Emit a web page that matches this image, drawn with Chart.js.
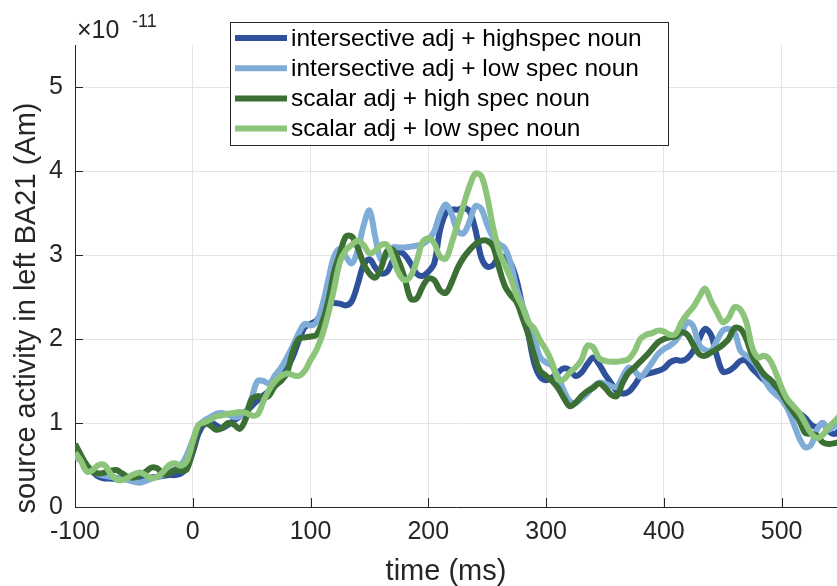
<!DOCTYPE html>
<html lang="en">
  <head>
    <meta charset="UTF-8" />
    <title>Source activity in left BA21</title>
    <script src="https://cdn.jsdelivr.net/npm/chart.js"></script>
    <style>
      body { margin: 0; background: #fff; }
      #wrap { width: 837px; height: 586px; }
    </style>
  </head>
  <body>
    <div id="wrap"><canvas id="chart" width="837" height="586"></canvas></div>

    <script>
      // time axis in ms, one sample every 5 ms
      const times = [];
      for (let t = -100; t <= 550; t += 5) times.push(t);

      const xTicks = [-100, 0, 100, 200, 300, 400, 500];
      const yTicks = [0, 1, 2, 3, 4, 5];

      // values in units of 1e-11 Am
      const intersectiveHigh = [
        0.62, 0.56, 0.48, 0.42, 0.36, 0.34, 0.34, 0.33, 0.33, 0.34, 0.35, 0.35, 0.35, 0.35, 0.36, 0.37, 0.38, 0.38, 0.40, 0.47,
        0.65, 0.88, 0.99, 1.01, 0.97, 0.94, 0.98, 1.03, 1.08, 1.14, 1.20, 1.27, 1.33, 1.38, 1.44, 1.53, 1.65, 1.79, 1.98, 2.14,
        2.18, 2.22, 2.32, 2.42, 2.43, 2.42, 2.40, 2.45, 2.65, 2.88, 2.95, 2.85, 2.78, 2.80, 2.94, 3.04, 3.00, 2.90, 2.78, 2.75,
        2.80, 2.90, 3.30, 3.50, 3.54, 3.54, 3.56, 3.52, 3.30, 2.97, 2.86, 2.88, 2.98, 2.97, 2.90, 2.70, 2.38, 2.05, 1.71, 1.55,
        1.51, 1.54, 1.60, 1.65, 1.63, 1.56, 1.60, 1.70, 1.78, 1.70, 1.58, 1.48, 1.38, 1.35, 1.37, 1.45, 1.55, 1.58, 1.60, 1.62,
        1.65, 1.72, 1.75, 1.74, 1.77, 1.86, 2.00, 2.12, 2.05, 1.80, 1.61, 1.62, 1.67, 1.74, 1.74, 1.65, 1.58, 1.51, 1.45, 1.40,
        1.34, 1.27, 1.19, 1.12, 1.06, 0.98, 0.95, 1.00, 0.90, 0.87, 0.93
      ];
      const intersectiveLow = [
        0.60, 0.55, 0.48, 0.43, 0.39, 0.37, 0.36, 0.35, 0.34, 0.32, 0.30, 0.29, 0.31, 0.34, 0.36, 0.38, 0.42, 0.45, 0.50, 0.62,
        0.80, 0.97, 1.03, 1.07, 1.11, 1.12, 1.10, 1.07, 1.08, 1.13, 1.30, 1.50, 1.50, 1.47, 1.57, 1.66, 1.78, 1.92, 2.07, 2.18,
        2.16, 2.20, 2.40, 2.70, 2.98, 3.07, 2.98, 2.90, 3.05, 3.35, 3.53, 3.21, 2.94, 3.00, 3.09, 3.09, 3.09, 3.10, 3.11, 3.13,
        3.18, 3.28, 3.49, 3.60, 3.48, 3.28, 3.26, 3.40, 3.58, 3.55, 3.36, 3.21, 3.13, 3.08, 2.90, 2.60, 2.40, 2.20, 2.00, 1.78,
        1.72, 1.68, 1.55, 1.39, 1.26, 1.24, 1.29, 1.35, 1.43, 1.48, 1.47, 1.44, 1.43, 1.55, 1.66, 1.62, 1.55, 1.62, 1.72, 1.82,
        1.88, 1.92, 1.98, 2.08, 2.20, 2.15, 1.93, 1.87, 1.86, 1.98, 2.10, 2.12, 2.08, 1.86, 1.80, 1.74, 1.66, 1.53, 1.41, 1.34,
        1.28, 1.17, 1.00, 0.82, 0.71, 0.74, 0.92, 1.00, 0.92, 0.97, 1.05
      ];
      const scalarHigh = [
        0.75, 0.62, 0.50, 0.42, 0.40, 0.41, 0.43, 0.44, 0.40, 0.36, 0.35, 0.38, 0.42, 0.47, 0.46, 0.39, 0.40, 0.44, 0.43, 0.45,
        0.68, 0.95, 1.00, 0.97, 0.92, 0.94, 1.00, 0.98, 0.93, 1.05, 1.28, 1.32, 1.30, 1.33, 1.45, 1.50, 1.60, 1.85, 2.00, 2.02,
        2.03, 2.05, 2.20, 2.45, 2.80, 3.02, 3.22, 3.22, 3.09, 2.90, 2.78, 2.73, 2.85, 3.05, 3.06, 2.92, 2.72, 2.48, 2.48, 2.62,
        2.72, 2.70, 2.58, 2.55, 2.68, 2.85, 2.97, 3.06, 3.13, 3.17, 3.17, 3.10, 2.85, 2.63, 2.52, 2.44, 2.25, 2.05, 1.80, 1.62,
        1.56, 1.50, 1.42, 1.30, 1.20, 1.24, 1.32, 1.38, 1.42, 1.47, 1.42, 1.34, 1.32, 1.48, 1.60, 1.66, 1.73, 1.80, 1.88, 1.96,
        2.00, 2.02, 2.03, 2.08, 2.05, 1.93, 1.82, 1.80, 1.84, 1.88, 1.93, 2.00, 2.13, 2.12, 2.00, 1.80, 1.68, 1.58, 1.52, 1.45,
        1.35, 1.23, 1.13, 1.03, 0.88, 0.87, 0.85, 0.77, 0.75, 0.76, 0.78
      ];
      const scalarLow = [
        0.65, 0.55, 0.42, 0.44, 0.50, 0.50, 0.40, 0.33, 0.32, 0.35, 0.39, 0.41, 0.38, 0.34, 0.36, 0.42, 0.50, 0.52, 0.49, 0.55,
        0.78, 0.98, 1.01, 1.04, 1.08, 1.09, 1.11, 1.12, 1.13, 1.12, 1.09, 1.10, 1.26, 1.40, 1.50, 1.56, 1.59, 1.57, 1.56, 1.62,
        1.75, 1.87, 2.05, 2.30, 2.60, 2.92, 3.06, 3.12, 3.17, 3.12, 3.02, 3.05, 3.12, 3.12, 2.96, 2.78, 2.70, 2.75, 2.92, 3.15,
        3.20, 3.14, 2.98, 2.96, 3.15, 3.38, 3.60, 3.82, 3.97, 3.94, 3.69, 3.33, 3.05, 2.88, 2.72, 2.52, 2.38, 2.20, 2.12, 1.98,
        1.87, 1.72, 1.52, 1.52, 1.60, 1.66, 1.75, 1.92, 1.90, 1.77, 1.74, 1.73, 1.73, 1.74, 1.76, 1.85, 2.00, 2.05, 2.07, 2.10,
        2.09, 2.05, 2.06, 2.20, 2.30, 2.38, 2.50, 2.60, 2.45, 2.32, 2.20, 2.25, 2.38, 2.35, 2.20, 1.90, 1.78, 1.80, 1.75, 1.60,
        1.42, 1.28, 1.20, 1.12, 1.00, 0.88, 0.82, 0.86, 0.95, 1.02, 1.10
      ];

      const seriesLabels = [
        "intersective adj + highspec noun",
        "intersective adj + low spec noun",
        "scalar adj + high spec noun",
        "scalar adj + low spec noun",
      ];
      const seriesColors = ["#2f519c", "#80acd8", "#3b6f33", "#8cc47a"];
      const seriesValues = [intersectiveHigh, intersectiveLow, scalarHigh, scalarLow];

      const FONT = "'Liberation Sans', Arial, Helvetica, sans-serif";
      const INK = "#262626";

      // inward tick marks, MATLAB style
      const innerTicks = {
        id: "innerTicks",
        beforeDatasetsDraw(chart) {
          const { ctx, chartArea, scales } = chart;
          ctx.save();
          ctx.strokeStyle = INK;
          ctx.lineWidth = 1;
          ctx.beginPath();
          xTicks.forEach((v) => {
            const px = Math.round(scales.x.getPixelForValue(v)) + 0.5;
            ctx.moveTo(px, chartArea.bottom);
            ctx.lineTo(px, chartArea.bottom - 9);
          });
          yTicks.forEach((v) => {
            const py = Math.round(scales.y.getPixelForValue(v)) + 0.5;
            ctx.moveTo(chartArea.left, py);
            ctx.lineTo(chartArea.left + 8, py);
          });
          ctx.stroke();
          ctx.restore();
        },
      };

      // axis titles, exponent and the boxed legend
      const decorations = {
        id: "decorations",
        afterDraw(chart) {
          const { ctx } = chart;
          ctx.save();
          ctx.fillStyle = INK;

          ctx.font = `29px ${FONT}`;
          ctx.textAlign = "center";
          ctx.textBaseline = "middle";
          ctx.fillText("time (ms)", 446, 572);

          ctx.save();
          ctx.translate(27, 308);
          ctx.rotate(-Math.PI / 2);
          ctx.fillText("source activity in left BA21 (Am)", 0, 0);
          ctx.restore();

          ctx.textAlign = "left";
          ctx.textBaseline = "alphabetic";
          ctx.font = `25px ${FONT}`;
          ctx.fillText("\u00d710", 77, 38);
          ctx.font = `18px ${FONT}`;
          ctx.fillText("-11", 132, 27);

          // legend
          ctx.fillStyle = "#fff";
          ctx.fillRect(230.5, 22.5, 438, 123);
          ctx.strokeStyle = INK;
          ctx.lineWidth = 1;
          ctx.strokeRect(230.5, 22.5, 438, 123);
          ctx.font = `24.5px ${FONT}`;
          ctx.textBaseline = "middle";
          chart.data.datasets.forEach((ds, i) => {
            const y = 38 + i * 30.2;
            ctx.strokeStyle = ds.borderColor;
            ctx.lineWidth = 6;
            ctx.beginPath();
            ctx.moveTo(235, y);
            ctx.lineTo(287, y);
            ctx.stroke();
            ctx.fillStyle = "#000";
            ctx.fillText(ds.label, 291, y + 1);
          });
          ctx.restore();
        },
      };

      new Chart(document.getElementById("chart"), {
        type: "line",
        data: {
          datasets: seriesValues.map((vals, i) => ({
            label: seriesLabels[i],
            data: vals.map((v, k) => ({ x: times[k], y: v })),
            borderColor: seriesColors[i],
            borderWidth: 6,
            pointRadius: 0,
            tension: 0.35,
            fill: false,
            order: 4 - i,
          })),
        },
        options: {
          responsive: false,
          animation: false,
          layout: { padding: { top: 45, left: 0, right: 0, bottom: 0 } },
          plugins: { legend: { display: false }, tooltip: { enabled: false } },
          scales: {
            x: {
              type: "linear",
              min: -100,
              max: 547,
              afterBuildTicks: (s) => { s.ticks = xTicks.map((v) => ({ value: v })); },
              afterFit: (s) => { s.height = 79; },
              grid: { color: "#e4e4e4", drawTicks: false },
              border: { color: INK, width: 1 },
              ticks: {
                color: INK,
                font: { family: FONT, size: 25 },
                padding: 10,
                maxRotation: 0,
                autoSkip: false,
              },
            },
            y: {
              min: 0,
              max: 5.5,
              afterBuildTicks: (s) => { s.ticks = yTicks.map((v) => ({ value: v })); },
              afterFit: (s) => { s.width = 75; },
              grid: { color: "#e4e4e4", drawTicks: false },
              border: { color: INK, width: 1 },
              ticks: {
                color: INK,
                font: { family: FONT, size: 25 },
                padding: 12,
              },
            },
          },
        },
        plugins: [innerTicks, decorations],
      });
    </script>
  </body>
</html>
